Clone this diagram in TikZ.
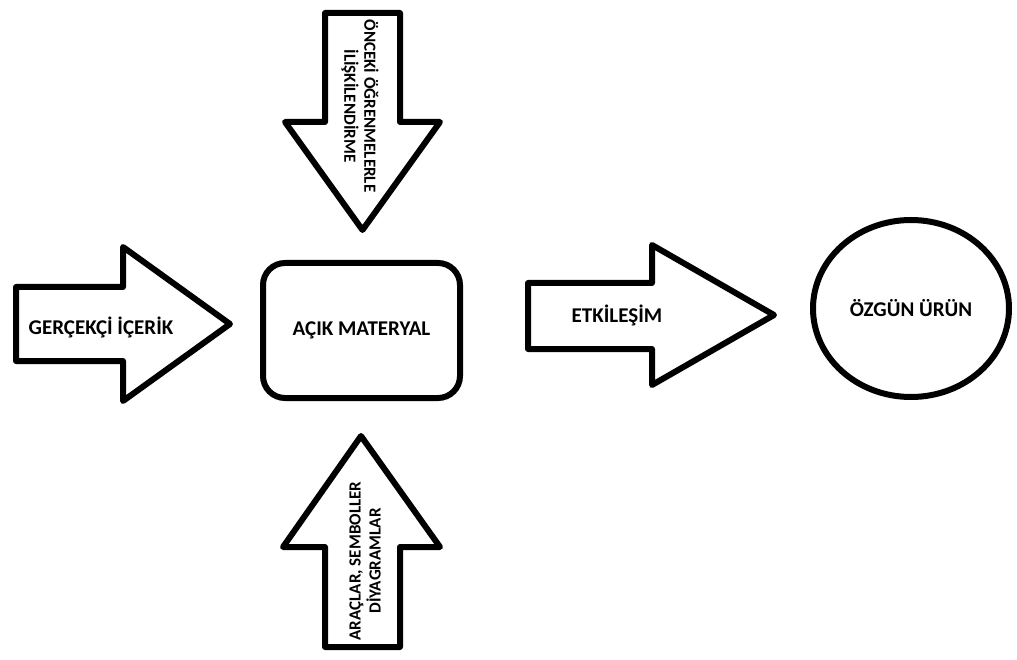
\documentclass[tikz,border=0pt]{standalone}
\usepackage{fontspec}
\setmainfont{Carlito}
\usepackage{tikz}
\usetikzlibrary{shapes.geometric}
\tikzstyle{blokok} = [draw=black, line width=6pt, line join=round, fill=white]
\tikzstyle{kutu} = [rectangle, rounded corners=22pt, minimum width=197pt, minimum height=135pt, inner sep=0pt, text centered, draw=black, line width=6pt]
\tikzstyle{daire} = [ellipse, minimum width=196pt, minimum height=177pt, inner sep=0pt, text centered, draw=black, line width=6pt]
\tikzstyle{yazi} = [font=\bfseries\fontsize{21}{24}\selectfont, text=black, inner sep=0pt]
\tikzstyle{dikyazi} = [font=\bfseries\fontsize{17}{20}\selectfont, text=black, inner sep=0pt, align=center]

\begin{document}
\begin{tikzpicture}[x=1pt, y=-1pt]
\useasboundingbox (0,0) rectangle (1017,660);
%bloklar
\draw[blokok] (16,287) -- (123,287) -- (123,247) -- (230,324) -- (123,401) -- (123,361) -- (16,361) -- cycle;
\draw[blokok] (325,13) -- (400,13) -- (400,122) -- (440,122) -- (362.5,230) -- (285,122) -- (325,122) -- cycle;
\draw[blokok] (361,436) -- (440,547) -- (400,547) -- (400,647) -- (325,647) -- (325,547) -- (283,547) -- cycle;
\draw[blokok] (528,283) -- (652,283) -- (652,245) -- (774,315) -- (652,385) -- (652,349) -- (528,349) -- cycle;
\node[kutu, yazi] (materyal) at (361.5,330.5) {AÇIK MATERYAL};
\node[daire, yazi] (urun) at (911,308.5) {ÖZGÜN ÜRÜN};
%yazilar
\node[yazi] (gercekci) at (101,327) {GERÇEKÇİ İÇERİK};
\node[yazi] (etkilesim) at (617,315) {ETKİLEŞİM};
\node[dikyazi, rotate=-90] (onceki) at (360,106) {ÖNCEKİ ÖĞRENMELERLE\\İLİŞKİLENDİRME};
\node[dikyazi, rotate=90] (araclar) at (365,561) {ARAÇLAR, SEMBOLLER\\DİYAGRAMLAR};
\end{tikzpicture}
\end{document}
